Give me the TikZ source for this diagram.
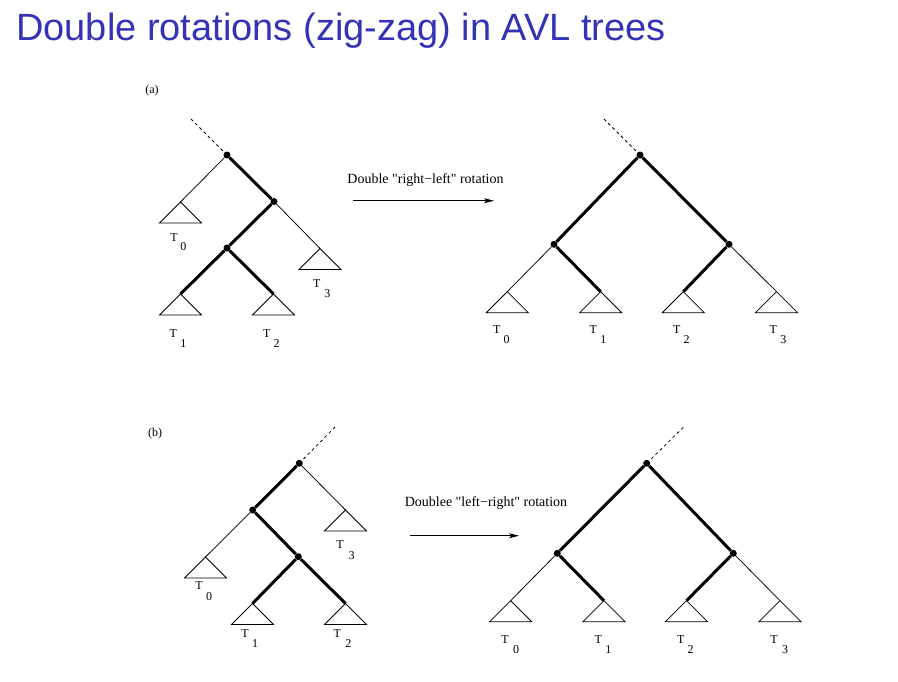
\documentclass[tikz,border=0pt]{standalone}
\usepackage{fontspec}
\setmainfont{Liberation Serif}
\newfontfamily\titlefont{Liberation Sans}
\usetikzlibrary{arrows.meta}
\definecolor{titleblue}{RGB}{51,51,179}

% a subtree drawn as a small triangle hanging from its apex
\newcommand\subtri[3]{%
  \coordinate (#1) at (#2,#3);
  \draw[subtriangle] (#1) -- ++(-21,21) -- ++(42,0) -- cycle;}
% a subtree name: T with its index set low and to the right
\newcommand\tlab[6]{%
  \node[tname] (#1) at (#2,#3) {T};
  \node[tname] (#1n) at (#4,#5) {#6};}

\begin{document}
\begin{tikzpicture}[x=1pt,y=-1pt,
  dot/.style={circle,fill=black,inner sep=0pt,minimum size=7pt},
  heavy/.style={line width=3pt},
  light/.style={line width=0.75pt},
  parentlink/.style={line width=0.75pt,dash pattern=on 3pt off 3pt},
  subtriangle/.style={line width=0.75pt,line join=miter},
  tname/.style={font=\fontsize{12}{12}\selectfont,inner sep=0pt},
  caption/.style={font=\fontsize{14}{15}\selectfont,inner sep=0pt},
  flow/.style={line width=0.75pt,-{Stealth[length=10pt,width=5pt,inset=2.5pt]}}
]
\useasboundingbox (0,0) rectangle (898,681);

\node[anchor=base west,inner sep=0pt,text=titleblue,
      font=\titlefont\fontsize{38}{42}\selectfont] (title) at (16,40)
  {Double rotations (zig-zag) in AVL trees};

% ---------------- (a) ----------------
\node[caption,font=\fontsize{12}{12}\selectfont] (la) at (152,91) {(a)};

% before the rotation
\coordinate (aP) at (191,119);
\node[dot] (aR) at (227,155) {};
\node[dot] (aB) at (274,201.5) {};
\node[dot] (aC) at (227,248) {};
\subtri{aT0}{180.5}{202}
\subtri{aT1}{180.5}{294}
\subtri{aT2}{273.5}{294}
\subtri{aT3}{320}{248.5}
\draw[parentlink] (aP) -- (aR);
\draw[light] (aR) -- (aT0);
\draw[light] (aB) -- (aT3);
\draw[heavy] (aR) -- (aB) -- (aC);
\draw[heavy] (aC) -- (aT1);
\draw[heavy] (aC) -- (aT2);
\tlab{aL0}{174}{237.7}{183.3}{246.7}{0}
\tlab{aL1}{173.3}{333.3}{183.3}{343.3}{1}
\tlab{aL2}{266.7}{333.3}{276.7}{343.3}{2}
\tlab{aL3}{316.7}{283.3}{327.3}{293.3}{3}

% the rotation
\node[caption] (acap) at (425.5,180) {Double \textquotedbl right−left\textquotedbl{} rotation};
\coordinate (aA1) at (352.5,200.7);
\coordinate (aA2) at (494,200.7);
\draw[flow] (aA1) -- (aA2);

% after the rotation
\coordinate (bP) at (604,119);
\node[dot] (bR) at (640,155) {};
\node[dot] (bL) at (554,244.3) {};
\node[dot] (bRR) at (729,244.3) {};
\subtri{bT0}{507.3}{291.7}
\subtri{bT1}{600.7}{291.7}
\subtri{bT2}{683.3}{291.7}
\subtri{bT3}{776.5}{291.7}
\draw[parentlink] (bP) -- (bR);
\draw[light] (bL) -- (bT0);
\draw[light] (bRR) -- (bT3);
\draw[heavy] (bL) -- (bR) -- (bRR);
\draw[heavy] (bL) -- (bT1);
\draw[heavy] (bRR) -- (bT2);
\tlab{bL0}{496.7}{330}{506.7}{340}{0}
\tlab{bL1}{593.3}{330}{603.3}{340}{1}
\tlab{bL2}{676.7}{330}{686.7}{340}{2}
\tlab{bL3}{773.3}{330}{783.3}{340}{3}

% ---------------- (b) ----------------
\node[caption,font=\fontsize{12}{12}\selectfont] (lb) at (155,434) {(b)};

% before the rotation
\coordinate (cP) at (335,427);
\node[dot] (cR) at (299.3,463.3) {};
\node[dot] (cL) at (252.7,510) {};
\node[dot] (cM) at (298.3,556.7) {};
\subtri{cT0}{205.5}{557}
\subtri{cT1}{252.5}{603.5}
\subtri{cT2}{345.5}{603.5}
\subtri{cT3}{345.5}{510}
\draw[parentlink] (cP) -- (cR);
\draw[light] (cR) -- (cT3);
\draw[light] (cL) -- (cT0);
\draw[heavy] (cR) -- (cL) -- (cM);
\draw[heavy] (cM) -- (cT1);
\draw[heavy] (cM) -- (cT2);
\tlab{cL0}{199}{586}{209}{597}{0}
\tlab{cL1}{245}{633.3}{255}{643.3}{1}
\tlab{cL2}{337.3}{633.3}{348.3}{643.3}{2}
\tlab{cL3}{340}{545}{351.7}{556}{3}

% the rotation
\node[caption] (bcap) at (486,502.7) {Doublee \textquotedbl left−right\textquotedbl{} rotation};
\coordinate (bA1) at (410,535.7);
\coordinate (bA2) at (519,535.7);
\draw[flow] (bA1) -- (bA2);

% after the rotation
\coordinate (dP) at (683.3,427.3);
\node[dot] (dR) at (646.7,463.3) {};
\node[dot] (dL) at (557.3,553.3) {};
\node[dot] (dRR) at (733.3,553.3) {};
\subtri{dT0}{510.7}{600.7}
\subtri{dT1}{604}{600.7}
\subtri{dT2}{686.5}{600.7}
\subtri{dT3}{780}{600.7}
\draw[parentlink] (dP) -- (dR);
\draw[light] (dL) -- (dT0);
\draw[light] (dRR) -- (dT3);
\draw[heavy] (dL) -- (dR) -- (dRR);
\draw[heavy] (dL) -- (dT1);
\draw[heavy] (dRR) -- (dT2);
\tlab{dL0}{505}{640}{516}{650}{0}
\tlab{dL1}{598.3}{640}{608.3}{650}{1}
\tlab{dL2}{680.7}{640}{690.7}{650}{2}
\tlab{dL3}{774}{640}{785}{650}{3}
\end{tikzpicture}
\end{document}
